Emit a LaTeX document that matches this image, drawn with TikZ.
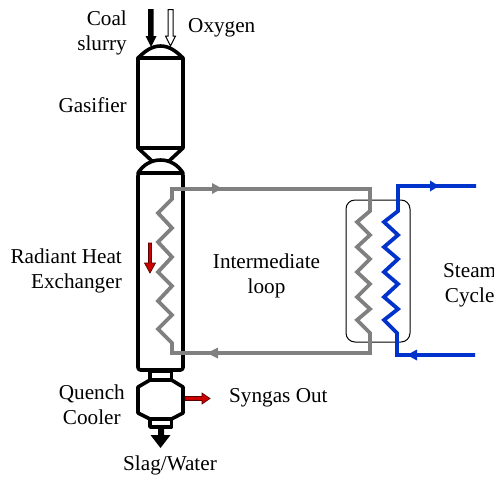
\documentclass[tikz,border=0pt]{standalone}
\usepackage{fontspec}
\setmainfont{Liberation Serif}
\usetikzlibrary{arrows.meta}
\tikzset{
  vessel/.style={draw=black,line width=3.6pt,line join=round,fill=white},
  thin box/.style={draw=black,line width=1pt,rounded corners=9pt},
  grayline/.style={draw=black!50,line width=3.8pt,line join=miter},
  blueline/.style={draw={rgb,255:red,0;green,51;blue,204},line width=3.8pt,line join=miter},
  flowgray/.style={fill=black!50,draw=none},
  flowblue/.style={fill={rgb,255:red,0;green,51;blue,204},draw=none},
  redarrow/.style={draw={rgb,255:red,90;green,0;blue,0},fill={rgb,255:red,204;green,0;blue,0},line width=.7pt,line join=miter},
  label/.style={font=\fontsize{21.2}{24.8}\selectfont,align=right,inner sep=0pt,text=black}
}
\begin{document}
\begin{tikzpicture}[x=1pt,y=-1pt]
\useasboundingbox (0,0) rectangle (494,477);
\clip (0,0) rectangle (494,477);
% Coal and oxygen feeds
\fill[black] (148,9) -- (153.5,9) -- (153.5,36) -- (156.5,36) -- (151,47) -- (145.5,36) -- (148,36) -- cycle;
\draw[black,line width=1pt,fill=white] (168,9.5) -- (173,9.5) -- (173,36) -- (175.5,36) -- (170.5,46) -- (165.5,36) -- (168,36) -- cycle;
% Gasifier
\draw[vessel] (138,58) .. controls (145,51) and (152,46) .. (160.5,46) .. controls (169,46) and (176,51) .. (183,58) -- cycle;
\draw[vessel] (138,58) rectangle (183,148);
\draw[vessel] (138,148) -- (152,161) -- (169,161) -- (183,148) -- cycle;
\draw[vessel] (138,173) .. controls (143,165) and (151,160) .. (160.5,160) .. controls (170,160) and (178,165) .. (183,173) -- cycle;
% Radiant heat exchanger
\draw[vessel,rounded corners=2.5pt] (138,173) rectangle (183,370);
% Quench cooler
\draw[vessel] (150,371) rectangle (171.5,380);
\draw[vessel] (150,380) -- (171.5,380) -- (183,387) -- (183,413) -- (171.5,419) -- (150,419) -- (138,413) -- (138,387) -- cycle;
\draw[vessel] (150,419) rectangle (171.5,427);
\fill[black] (158,427) -- (164,427) -- (164,435) -- (170.5,435) -- (160.5,448) -- (150.5,435) -- (158,435) -- cycle;
% Intermediate loop
\draw[thin box] (346,200) rectangle (410,342);
\draw[grayline] (370,189) -- (172,189) -- (172,199) -- (158,213) -- (172,228) -- (158,242) -- (172,257) -- (158,272) -- (172,286) -- (158,301) -- (172,315) -- (158,329) -- (172,343) -- (172,353) -- (370,353);
\draw[grayline] (370,187.1) -- (370,211) -- (357,222) -- (370,235) -- (357,247) -- (370,259) -- (357,272) -- (370,284) -- (357,297) -- (370,309) -- (357,320) -- (370,333) -- (370,354.9);
\fill[flowgray] (222,188.5) -- (212,183) -- (212,194) -- cycle;
\fill[flowgray] (207,353) -- (218,347.5) -- (218,358.5) -- cycle;
% Steam cycle
\draw[blueline] (476,186) -- (398,186) -- (398,211) -- (384,222) -- (398,235) -- (384,247) -- (398,259) -- (384,272) -- (398,284) -- (384,297) -- (398,309) -- (384,320) -- (397,333) -- (397,355) -- (475,355);
\fill[flowblue] (439,186) -- (430,180.5) -- (430,191.5) -- cycle;
\fill[flowblue] (407,355) -- (417,349.5) -- (417,360.5) -- cycle;
% Red flow arrows
\draw[redarrow] (148.5,243) -- (151.5,243) -- (151.5,263) -- (155.5,263) -- (150,273) -- (144.5,263) -- (148.5,263) -- cycle;
\draw[redarrow] (185,396.5) -- (202,396.5) -- (202,393) -- (210,398.5) -- (202,404) -- (202,400.5) -- (185,400.5) -- cycle;
% Labels
\node[label,anchor=east] (coal) at (127,33) {Coal\\slurry};
\node[label,anchor=west] (oxygen) at (188,28) {Oxygen};
\node[label,anchor=east] (gasifier) at (127,105) {Gasifier};
\node[label,anchor=east] (rhx) at (122,271) {Radiant Heat\\Exchanger};
\node[label,anchor=center,align=center] (loop) at (266.5,276) {Intermediate\\loop};
\node[label,anchor=west,align=center] (steam) at (443,285) {Steam\\Cycle};
\node[label,anchor=east,align=center] (quench) at (125,404.5) {Quench\\Cooler};
\node[label,anchor=west] (syngas) at (229,398) {Syngas Out};
\node[label,anchor=center] (slag) at (170,465) {Slag/Water};
\end{tikzpicture}
\end{document}
